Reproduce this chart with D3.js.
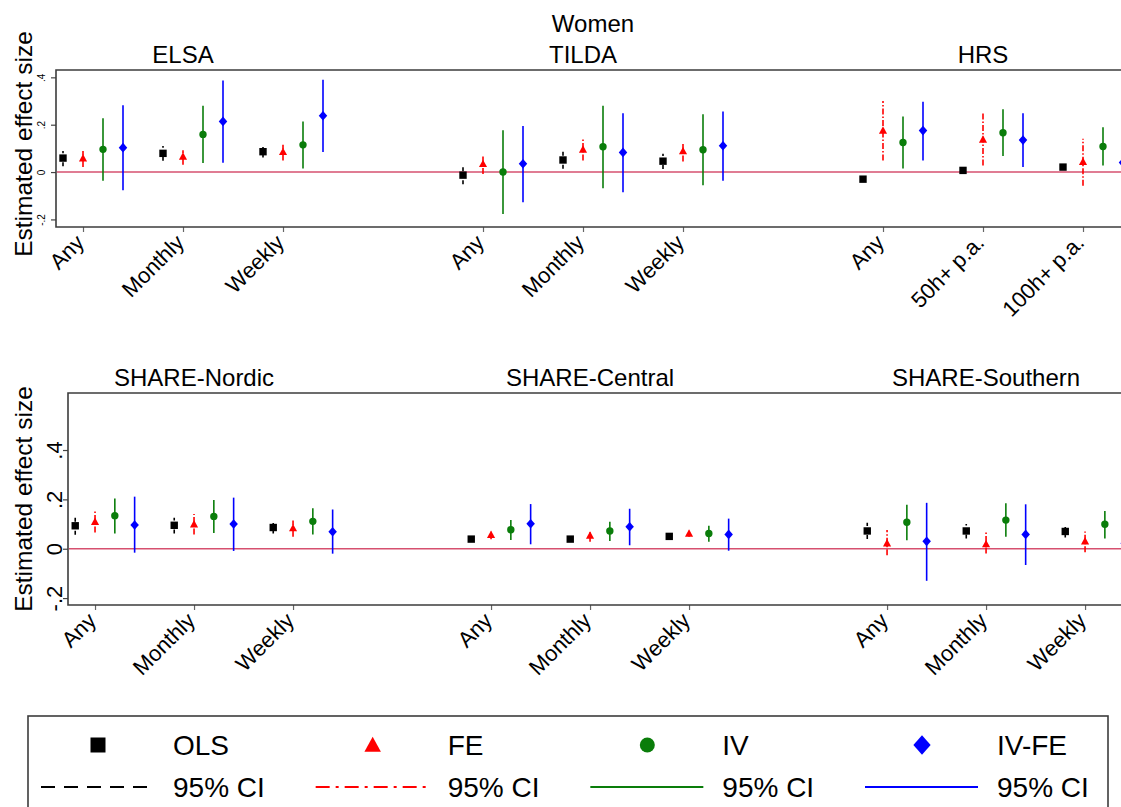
<!DOCTYPE html>
<html><head><meta charset="utf-8">
<script src="https://cdn.jsdelivr.net/npm/d3@7"></script>
<style>body{margin:0;background:#fff} svg text{font-family:"Liberation Sans",Arial,sans-serif;fill:#000}</style>
</head><body><svg id="c" width="1121" height="807"></svg>
<script>
// ---------- DATA ----------
const mainTitle = "Women";
const topTitles = ["ELSA", "TILDA", "HRS"];
const bottomTitles = ["SHARE-Nordic", "SHARE-Central", "SHARE-Southern"];
const topCats = ["Any","Monthly","Weekly","Any","Monthly","Weekly","Any","50h+ p.a.","100h+ p.a."];
const bottomCats = ["Any","Monthly","Weekly","Any","Monthly","Weekly","Any","Monthly","Weekly"];
const catPos = [1,2,3,5,6,7,9,10,11];
const estimators = ["OLS","FE","IV","IV-FE"];
const estOffset = [-0.2, 0, 0.2, 0.4];
const yTickValues = [-0.2, 0, 0.2, 0.4];
const yTickLabels = ["-.2", "0", ".2", ".4"];
const yTitle = "Estimated effect size";
const ciLabel = "95% CI";

// top row (ELSA, TILDA, HRS)
const olsTopEst = [0.059, 0.079, 0.086, -0.013, 0.051, 0.046, -0.030, 0.007, 0.021];
const olsTopLo  = [0.025, 0.048, 0.061, -0.051, 0.014, 0.013, -0.036, 0.002, 0.015];
const olsTopHi  = [0.089, 0.110, 0.111, 0.025, 0.087, 0.077, -0.024, 0.012, 0.027];
const feTopEst  = [0.059, 0.066, 0.086, 0.035, 0.096, 0.089, 0.176, 0.138, 0.044];
const feTopLo   = [0.021, 0.031, 0.049, -0.008, 0.049, 0.045, 0.049, 0.028, -0.058];
const feTopHi   = [0.089, 0.092, 0.115, 0.073, 0.138, 0.127, 0.300, 0.249, 0.141];
const ivTopEst  = [0.096, 0.159, 0.115, 0.000, 0.107, 0.094, 0.125, 0.166, 0.108];
const ivTopLo   = [-0.037, 0.038, 0.015, -0.177, -0.068, -0.056, 0.015, 0.068, 0.028];
const ivTopHi   = [0.227, 0.280, 0.214, 0.177, 0.280, 0.244, 0.235, 0.265, 0.189];
const ivfeTopEst = [0.103, 0.214, 0.238, 0.035, 0.083, 0.111, 0.175, 0.135, 0.040];
const ivfeTopLo  = [-0.077, 0.039, 0.085, -0.127, -0.085, -0.037, 0.049, 0.021, -0.060];
const ivfeTopHi  = [0.282, 0.387, 0.390, 0.194, 0.248, 0.256, 0.297, 0.248, 0.140];

// bottom row (SHARE-Nordic, SHARE-Central, SHARE-Southern)
const olsBotEst = [0.093, 0.095, 0.086, 0.039, 0.039, 0.050, 0.072, 0.072, 0.070];
const olsBotLo  = [0.057, 0.062, 0.062, 0.028, 0.028, 0.039, 0.039, 0.041, 0.046];
const olsBotHi  = [0.126, 0.126, 0.109, 0.055, 0.053, 0.061, 0.105, 0.100, 0.095];
const feBotEst  = [0.110, 0.100, 0.084, 0.057, 0.054, 0.062, 0.023, 0.019, 0.031];
const feBotLo   = [0.066, 0.058, 0.049, 0.038, 0.028, 0.049, -0.026, -0.019, -0.014];
const feBotHi   = [0.151, 0.141, 0.114, 0.072, 0.069, 0.074, 0.076, 0.066, 0.070];
const ivBotEst  = [0.134, 0.131, 0.111, 0.077, 0.072, 0.062, 0.107, 0.116, 0.099];
const ivBotLo   = [0.062, 0.064, 0.058, 0.035, 0.031, 0.028, 0.034, 0.049, 0.041];
const ivBotHi   = [0.204, 0.197, 0.164, 0.116, 0.109, 0.093, 0.178, 0.184, 0.153];
const ivfeBotEst = [0.096, 0.100, 0.069, 0.101, 0.089, 0.058, 0.030, 0.058, 0.022];
const ivfeBotLo  = [-0.016, -0.009, -0.020, 0.018, 0.014, -0.008, -0.130, -0.066, -0.050];
const ivfeBotHi  = [0.211, 0.207, 0.159, 0.181, 0.162, 0.122, 0.186, 0.180, 0.090];

// ---------- STYLES ----------
const styles = [
  {color:"#000000", dash:"4,2.5", shape:"square"},
  {color:"#ff0000", dash:"6,2,1.5,2", shape:"triangle"},
  {color:"#0a7d0a", dash:null, shape:"circle"},
  {color:"#0000ff", dash:null, shape:"diamond"}
];
const legendDash = ["14,9", "14,6,3,6", null, null];

const svg = d3.select("#c");
const W = 1121;

function markerPath(shape, s) {
  const p = d3.path();
  if (shape === "square") { p.rect(-s/2, -s/2, s, s); }
  else if (shape === "triangle") { const w = s*1.1, h = s; p.moveTo(0,-h*0.55); p.lineTo(w/2,h*0.45); p.lineTo(-w/2,h*0.45); p.closePath(); }
  else if (shape === "circle") { p.arc(0,0,s/2,0,2*Math.PI); }
  else { const w = s*1.15, h = s*1.3; p.moveTo(0,-h/2); p.lineTo(w/2,0); p.lineTo(0,h/2); p.lineTo(-w/2,0); p.closePath(); }
  return p.toString();
}

function drawPanel(cfg, titles, cats, series) {
  const x = d3.scaleLinear().domain(cfg.xDomain).range([cfg.left, W]);
  const y = d3.scaleLinear().domain(cfg.yDomain).range([cfg.bottom, cfg.top]);
  const g = svg.append("g");

  // y axis
  const ya = g.append("g").attr("transform", `translate(${cfg.left},0)`)
    .call(d3.axisLeft(y).tickValues(yTickValues).tickFormat((d,i)=>yTickLabels[i]).tickSize(5));
  ya.attr("font-size", cfg.tickFont).attr("font-family","Liberation Sans, Arial, sans-serif");
  ya.select(".domain").remove();
  ya.selectAll("line").attr("stroke","#444").attr("stroke-width",1.2);
  ya.selectAll("text").attr("x",null).attr("dy",null).attr("fill","#000")
    .attr("text-anchor","middle").attr("font-size", cfg.tickFont).style("font-size", cfg.tickFont+"px")
    .attr("transform", `translate(${cfg.tickBase - cfg.left},0) rotate(-90)`);

  // x axis
  const xa = g.append("g").attr("transform", `translate(0,${cfg.bottom})`)
    .call(d3.axisBottom(x).tickValues(catPos).tickFormat((d,i)=>cats[i]).tickSize(5));
  xa.attr("font-size", 22).attr("font-family","Liberation Sans, Arial, sans-serif");
  xa.select(".domain").remove();
  xa.selectAll("line").attr("stroke","#666").attr("stroke-width",1.2);
  xa.selectAll("text").attr("y",null).attr("dy",null).attr("fill","#000")
    .attr("text-anchor","end").style("font-size","22px")
    .attr("transform", "translate(2,17) rotate(-45)");

  // frame
  g.append("path").attr("d", `M${W+10},${cfg.top}H${cfg.left}V${cfg.bottom}H${W+10}`)
    .attr("fill","none").attr("stroke","#3c3c3c").attr("stroke-width",1.6);

  // zero line
  g.append("line").attr("x1", cfg.left+1).attr("x2", W).attr("y1", y(0)).attr("y2", y(0))
    .attr("stroke","#d6506f").attr("stroke-width",1.6);

  // CIs
  series.forEach((s, k) => {
    g.append("g").selectAll("line").data(s.est).join("line")
      .attr("x1", (d,i)=>x(catPos[i]+estOffset[k])).attr("x2", (d,i)=>x(catPos[i]+estOffset[k]))
      .attr("y1", (d,i)=>y(s.lo[i])).attr("y2", (d,i)=>y(s.hi[i]))
      .attr("stroke", styles[k].color).attr("stroke-width", 1.6)
      .attr("stroke-dasharray", styles[k].dash);
  });
  // markers
  series.forEach((s, k) => {
    g.append("g").selectAll("path").data(s.est).join("path")
      .attr("transform", (d,i)=>`translate(${x(catPos[i]+estOffset[k])},${y(d)})`)
      .attr("d", markerPath(styles[k].shape, 7.4))
      .attr("fill", styles[k].color);
  });

  // titles
  titles.forEach((t, j) => {
    g.append("text").attr("x", x(catPos[j*3+1])).attr("y", cfg.titleY)
      .attr("text-anchor","middle").style("font-size","24px").text(t);
  });
  // y title
  g.append("text").attr("transform", `translate(${cfg.ytitleX},${cfg.ytitleY}) rotate(-90)`)
    .attr("text-anchor","middle").style("font-size","24.5px").text(yTitle);
}

svg.append("text").attr("x",593).attr("y",32).attr("text-anchor","middle")
  .style("font-size","24px").text(mainTitle);

drawPanel({left:56, top:70, bottom:227, xDomain:[0.73, 11.38], yDomain:[-0.232, 0.431],
           tickFont:10, tickBase:45, titleY:63, ytitleX:32, ytitleY:144},
  topTitles, topCats, [
    {est:olsTopEst, lo:olsTopLo, hi:olsTopHi},
    {est:feTopEst, lo:feTopLo, hi:feTopHi},
    {est:ivTopEst, lo:ivTopLo, hi:ivTopHi},
    {est:ivfeTopEst, lo:ivfeTopLo, hi:ivfeTopHi}]);

drawPanel({left:68, top:393, bottom:605, xDomain:[0.727, 11.363], yDomain:[-0.228, 0.631],
           tickFont:22, tickBase:62, titleY:386, ytitleX:32, ytitleY:499},
  bottomTitles, bottomCats, [
    {est:olsBotEst, lo:olsBotLo, hi:olsBotHi},
    {est:feBotEst, lo:feBotLo, hi:feBotHi},
    {est:ivBotEst, lo:ivBotLo, hi:ivBotHi},
    {est:ivfeBotEst, lo:ivfeBotLo, hi:ivfeBotHi}]);

// ---------- LEGEND ----------
const lg = svg.append("g");
lg.append("rect").attr("x",28).attr("y",716).attr("width",1080).attr("height",120)
  .attr("fill","none").attr("stroke","#3c3c3c").attr("stroke-width",1.6);
const colX = d3.scaleLinear().domain([0,3]).range([0, 824]);
estimators.forEach((name, k) => {
  const ox = colX(k);
  lg.append("path").attr("transform", `translate(${98+ox},745)`)
    .attr("d", markerPath(styles[k].shape, 15)).attr("fill", styles[k].color);
  lg.append("text").attr("x", 173+ox).attr("y", 755).style("font-size","28px").text(name);
  lg.append("line").attr("x1", 41+ox).attr("x2", 154+ox).attr("y1", 787).attr("y2", 787)
    .attr("stroke", styles[k].color).attr("stroke-width", 2.2)
    .attr("stroke-dasharray", legendDash[k]);
  lg.append("text").attr("x", 173+ox).attr("y", 797).style("font-size","28px").text(ciLabel);
});
</script></body></html>
